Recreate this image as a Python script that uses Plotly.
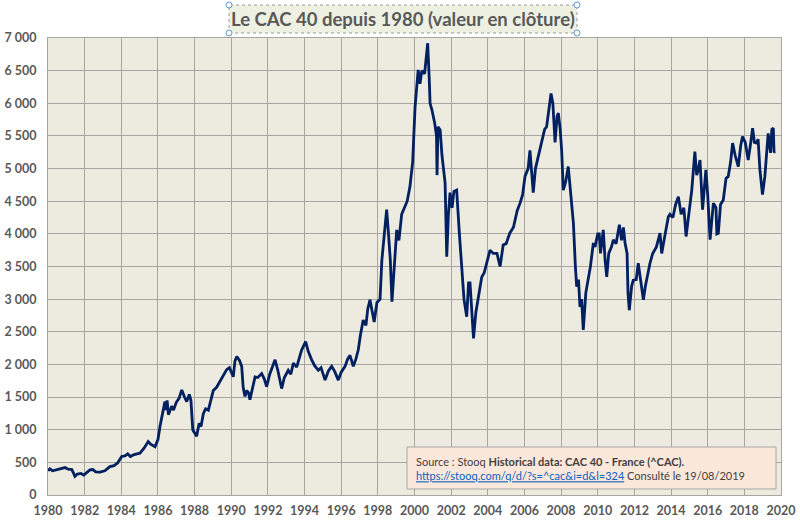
import plotly.graph_objects as go

# Decimal years and closing values
years = [
    1980.00, 1980.10, 1980.25, 1980.45, 1980.70, 1980.93, 1981.10, 1981.30, 1981.40, 1981.47,
    1981.60, 1981.80, 1981.95, 1982.15, 1982.29, 1982.45, 1982.60, 1982.84, 1983.10, 1983.38,
    1983.60, 1983.80, 1984.02, 1984.20, 1984.35, 1984.50, 1984.70, 1985.02, 1985.25, 1985.47,
    1985.60, 1985.84, 1986.00, 1986.11, 1986.25, 1986.38, 1986.45, 1986.50, 1986.57, 1986.75,
    1986.85, 1987.00, 1987.15, 1987.30, 1987.45, 1987.57, 1987.71, 1987.80, 1987.90, 1988.00,
    1988.11, 1988.25, 1988.35, 1988.48, 1988.60, 1988.75, 1989.02, 1989.20, 1989.40, 1989.60,
    1989.75, 1989.90, 1990.11, 1990.20, 1990.30, 1990.45, 1990.57, 1990.65, 1990.75, 1990.85,
    1990.95, 1991.02, 1991.15, 1991.30, 1991.45, 1991.66, 1991.80, 1991.93, 1992.10, 1992.25,
    1992.39, 1992.55, 1992.65, 1992.75, 1992.90, 1993.11, 1993.25, 1993.39, 1993.57, 1993.75,
    1993.84, 1994.06, 1994.20, 1994.39, 1994.55, 1994.75, 1994.90, 1995.12, 1995.30, 1995.48,
    1995.65, 1995.84, 1996.00, 1996.21, 1996.35, 1996.48, 1996.66, 1996.80, 1996.93, 1997.05,
    1997.20, 1997.35, 1997.45, 1997.57, 1997.70, 1997.80, 1997.95, 1998.12, 1998.22, 1998.35,
    1998.48, 1998.58, 1998.68, 1998.77, 1998.90, 1999.03, 1999.15, 1999.30, 1999.45, 1999.60,
    1999.75, 1999.90, 2000.03, 2000.12, 2000.20, 2000.30, 2000.40, 2000.55, 2000.65, 2000.72,
    2000.80, 2000.85, 2000.95, 2001.10, 2001.20, 2001.23, 2001.28, 2001.40, 2001.50, 2001.67,
    2001.76, 2001.85, 2001.94, 2002.05, 2002.15, 2002.30, 2002.45, 2002.57, 2002.70, 2002.85,
    2002.95, 2003.03, 2003.15, 2003.22, 2003.35, 2003.45, 2003.67, 2003.80, 2004.00, 2004.12,
    2004.30, 2004.50, 2004.67, 2004.84, 2005.00, 2005.20, 2005.40, 2005.60, 2005.76, 2005.90,
    2006.03, 2006.20, 2006.30, 2006.40, 2006.48, 2006.60, 2006.80, 2006.94, 2007.10, 2007.21,
    2007.35, 2007.45, 2007.55, 2007.67, 2007.78, 2007.85, 2007.95, 2008.03, 2008.12, 2008.25,
    2008.39, 2008.50, 2008.58, 2008.67, 2008.78, 2008.85, 2008.95, 2009.03, 2009.12, 2009.21,
    2009.35, 2009.48, 2009.60, 2009.76, 2009.85, 2010.00, 2010.08, 2010.15, 2010.30, 2010.40,
    2010.49, 2010.60, 2010.75, 2010.85, 2011.00, 2011.18, 2011.30, 2011.40, 2011.49, 2011.60,
    2011.65, 2011.72, 2011.85, 2011.94, 2012.10, 2012.21, 2012.35, 2012.49, 2012.60, 2012.75,
    2012.85, 2013.00, 2013.20, 2013.40, 2013.49, 2013.65, 2013.85, 2013.94, 2014.10, 2014.25,
    2014.40, 2014.55, 2014.70, 2014.82, 2014.95, 2015.13, 2015.30, 2015.40, 2015.50, 2015.58,
    2015.72, 2015.90, 2016.00, 2016.13, 2016.31, 2016.45, 2016.50, 2016.58, 2016.70, 2016.85,
    2017.00, 2017.12, 2017.25, 2017.36, 2017.50, 2017.67, 2017.80, 2017.90, 2018.05, 2018.21,
    2018.35, 2018.45, 2018.55, 2018.67, 2018.75, 2018.85, 2018.99, 2019.12, 2019.30, 2019.38,
    2019.43, 2019.50, 2019.58, 2019.62, 2019.67,
]
closes = [
    370, 400, 370, 385, 395, 420, 395, 390, 330, 285,
    320, 330, 305, 350, 385, 390, 355, 350, 370, 435,
    450, 490, 590, 600, 630, 590, 620, 640, 720, 820,
    780, 740, 850, 1050, 1250, 1430, 1300, 1450, 1230, 1360,
    1300, 1420, 1480, 1610, 1500, 1430, 1540, 1450, 1000, 950,
    900, 1100, 1050, 1250, 1320, 1300, 1600, 1650, 1750, 1850,
    1920, 1950, 1810, 2050, 2120, 2060, 1970, 1650, 1510, 1600,
    1560, 1460, 1650, 1810, 1800, 1860, 1780, 1660, 1850, 1950,
    2070, 1900, 1750, 1630, 1800, 1910, 1850, 2020, 1960, 2150,
    2220, 2350, 2200, 2070, 1980, 1910, 1950, 1760, 1900, 1970,
    1890, 1760, 1880, 1970, 2080, 2140, 1970, 2080, 2220, 2450,
    2680, 2600, 2850, 2990, 2800, 2650, 2950, 3000, 3600, 4000,
    4370, 4000, 3600, 2960, 3500, 4060, 3900, 4300, 4400, 4500,
    4720, 5100, 5940, 6200, 6510, 6300, 6500, 6450, 6700, 6920,
    6400, 6000, 5900, 5700, 5500, 4900, 5640, 5590, 5200, 4780,
    3650, 4300, 4630, 4400, 4650, 4670, 4000, 3550, 3000, 2730,
    3250, 3250, 2800, 2400, 2800, 2950, 3340, 3400, 3600, 3750,
    3700, 3700, 3500, 3830, 3850, 4010, 4100, 4350, 4470, 4600,
    4880, 5000, 5280, 4900, 4630, 5000, 5250, 5440, 5600, 5640,
    5900, 6150, 6000, 5400, 5800, 5850, 5600, 5280, 4670, 4800,
    5030, 4700, 4520, 4170, 3500, 3190, 3300, 2880, 3000, 2530,
    3100, 3290, 3500, 3860, 3800, 4000, 4000, 3700, 4060, 3600,
    3340, 3700, 3800, 3910, 3850, 4140, 3900, 4100, 3860, 3700,
    3100, 2830, 3200, 3290, 3300, 3550, 3250, 2990, 3200, 3450,
    3550, 3700, 3800, 4010, 3700, 3950, 4260, 4300, 4250, 4450,
    4570, 4300, 4400, 3960, 4250, 4670, 5260, 4900, 5000, 5130,
    4370, 4980, 4600, 3910, 4470, 4400, 4000, 4010, 4450, 4520,
    4850, 4880, 5100, 5390, 5200, 5030, 5350, 5490, 5400, 5130,
    5400, 5620, 5400, 5390, 5450, 4980, 4600, 4880, 5540, 5350,
    5240, 5600, 5620, 5250, 5260,
]

x_ticks = list(range(1980, 2021, 2))
x_ticklabels = [str(y) for y in x_ticks]
y_ticks = list(range(0, 7001, 500))
y_ticklabels = ["0", "500", "1 000", "1 500", "2 000", "2 500", "3 000", "3 500",
                "4 000", "4 500", "5 000", "5 500", "6 000", "6 500", "7 000"]

title_text = "Le CAC 40 depuis 1980 (valeur en clôture)"
source_line1 = "Source : Stooq <b>Historical data: CAC 40 - France (^CAC).</b>"
source_link = "https://stooq.com/q/d/?s=^cac&i=d&l=324"
source_date = " Consulté le 19/08/2019"

fig = go.Figure()
fig.add_trace(go.Scatter(
    x=years, y=closes, mode="lines",
    line=dict(color="#002060", width=2.8),
    hoverinfo="x+y", showlegend=False,
))

tickfont = dict(family="Lato", size=12.5, color="#595959", weight="bold")
grid = "#A8A6A0"

# plot area in pixels: left 48, right 781, top 38, bottom 495
L, R, T, B = 48, 781, 38, 495
W, H = R - L, B - T

def px(x):
    return (x - L) / W

def py(y):
    return (B - y) / H

fig.update_layout(
    width=800, height=523,
    margin=dict(l=L, r=800 - R, t=T, b=523 - B, autoexpand=False),
    paper_bgcolor="white",
    plot_bgcolor="#EDEAE0",
    xaxis=dict(
        range=[1980, 2020], tickvals=x_ticks, ticktext=x_ticklabels,
        showgrid=True, gridcolor=grid, gridwidth=1,
        showline=True, linecolor=grid, linewidth=1, mirror=True,
        tickfont=tickfont, ticks="", zeroline=False, fixedrange=True,
        automargin=False, ticklabelstandoff=4,
    ),
    yaxis=dict(
        range=[0, 7000], tickvals=y_ticks, ticktext=y_ticklabels,
        showgrid=True, gridcolor=grid, gridwidth=1,
        showline=True, linecolor=grid, linewidth=1, mirror=True,
        tickfont=tickfont, ticks="", zeroline=False, fixedrange=True,
        automargin=False, ticklabelstandoff=8,
    ),
)

# Title box
fig.add_shape(type="rect", xref="paper", yref="paper",
              x0=px(229), x1=px(577), y0=py(33), y1=py(5),
              fillcolor="#EEF0E2", line=dict(color="#9A9A9A", width=1, dash="dot"))
fig.add_annotation(xref="paper", yref="paper",
                   x=px(403), y=py(19),
                   text=title_text, showarrow=False,
                   font=dict(family="Lato", size=18.5, color="#595959", weight="bold"),
                   xanchor="center", yanchor="middle")
for hx, hy in [(229, 5), (229, 33), (577, 5), (577, 33)]:
    fig.add_shape(type="circle", xref="paper", yref="paper",
                  x0=px(hx - 3), x1=px(hx + 3), y0=py(hy + 3), y1=py(hy - 3),
                  fillcolor="white", line=dict(color="#5B9BD5", width=1))

# Source box
fig.add_shape(type="rect", xref="paper", yref="paper",
              x0=px(407), x1=px(776), y0=py(489), y1=py(447),
              fillcolor="#FCE8DA", line=dict(color="#A6A6A6", width=1))
fig.add_annotation(xref="paper", yref="paper",
                   x=px(414), y=py(468),
                   text=(source_line1 + "<br>"
                         + "<span style='color:#0563C1'><u>" + source_link + "</u></span>"
                         + source_date),
                   showarrow=False, align="left",
                   font=dict(family="Lato", size=11, color="#404040"),
                   xanchor="left", yanchor="middle")

fig.write_html("out.html", config={"displayModeBar": False},
               post_script="document.body.style.margin='0';document.body.style.padding='0';")
